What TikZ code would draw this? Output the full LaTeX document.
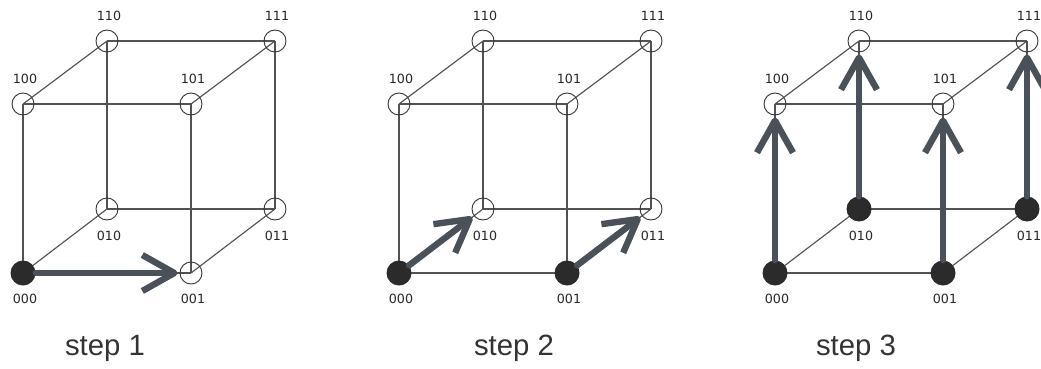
\documentclass[tikz,border=0pt]{standalone}
\usepackage{fontspec}
\setmainfont{Liberation Sans}
\newfontfamily\labfont{DejaVu Sans}
\usetikzlibrary{arrows.meta,backgrounds}
\definecolor{dot}{HTML}{2B2B2B}
\definecolor{arr}{HTML}{4A5159}

\begin{document}
\begin{tikzpicture}[x=0.75pt,y=-0.75pt,
        o/.style={circle, draw=black!78, line width=0.7pt,
                        inner sep=0pt, minimum size=16.5pt},
        f/.style={circle, fill=dot, inner sep=0pt, minimum size=18.75pt},
        edge/.style={draw=black!68, line width=0.85pt},
        lab/.style={inner sep=0pt, font=\labfont\fontsize{9.5}{11}\selectfont, text=black!85},
        stp/.style={anchor=base, font=\fontsize{22}{26}\selectfont, text=black!80},
        arw/.style={draw=arr, line width=4.8pt, line cap=round, shorten >=1.5pt,
                        -{Straight Barb[length=24pt, width=27pt, line join=round]}}]
    \useasboundingbox (0,0) rectangle (1041,368);
    \foreach \s/\dx/\tx in {1/0/105, 2/376/138, 3/752/104}{
        \begin{scope}[shift={(\dx,0)}]
            \foreach \v/\x/\y/\k/\ly in {000/23/273/1/299, 001/191/273/2/299,
                    010/107/209/3/236, 011/275/209/3/236,
                    100/23/104/4/79, 101/191/104/4/79,
                    110/107/41/4/16, 111/275/41/4/16}{
                \ifnum\s<\k \tikzset{vs/.style={o}}\else\tikzset{vs/.style={f}}\fi
                \node[vs] (n\s-\v) at (\x,\y) {};
                \node[lab] (l\s-\v) at (\x+2,\ly) {\v};
            }
            \begin{scope}[on background layer]
                \foreach \a/\b in {000/001, 000/010, 000/100, 001/011, 001/101, 010/011,
                        010/110, 011/111, 100/101, 100/110, 101/111, 110/111}
                    \draw[edge] (n\s-\a.center) -- (n\s-\b.center);
            \end{scope}
            \node[stp] (t\s) at (\tx,355) {step \s};
        \end{scope}
    }
    \draw[arw] (n1-000) -- (n1-001);
    \draw[arw] (n2-000) -- (n2-010);
    \draw[arw] (n2-001) -- (n2-011);
    \foreach \a/\b in {000/100, 001/101, 010/110, 011/111}
        \draw[arw] (n3-\a) -- (n3-\b);
\end{tikzpicture}
\end{document}
